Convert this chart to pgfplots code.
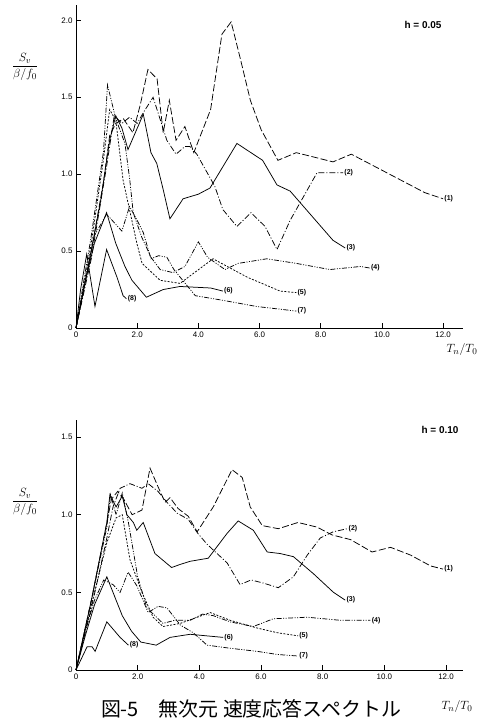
\documentclass[border=0pt]{standalone}
\usepackage{fontspec}
\setmainfont{Liberation Sans}
\newfontfamily\cjk{Noto Sans CJK JP}
\usepackage{pgfplots}
\pgfplotsset{compat=1.18}

\pgfplotsset{
  spec/.style={
    scale only axis, width=387bp, xmin=0,
    axis x line*=bottom, axis y line*=left,
    axis line style={line width=0.9pt},
    tick align=inside, major tick length=5bp,
    tick style={line width=0.8pt, black},
    xtick={0,2,4,6,8,10,12},
    xticklabels={0,2.0,4.0,6.0,8.0,10.0,12.0},
    tick label style={font=\fontsize{8}{9}\selectfont},
    /pgf/number format/assume math mode=true,
    clip=false,
    every axis plot/.append style={black, line width=0.75pt, no markers},
  },
  c1/.style={dash pattern=on 7pt off 2.5pt},
  c2/.style={dash pattern=on 6pt off 2pt on 1pt off 2pt},
  c3/.style={solid},
  c4/.style={dash pattern=on 5pt off 1.5pt on 1pt off 1.5pt on 1pt off 1.5pt},
  c5/.style={dash pattern=on 2pt off 1.5pt},
  c6/.style={solid},
  c7/.style={dash pattern=on 5pt off 1.5pt on 1pt off 1.5pt on 1pt off 1.5pt},
  c8/.style={solid},
}
\tikzset{lab/.style={pos=1, right, inner sep=1pt, font=\bfseries\fontsize{7}{8}\selectfont}}

\begin{document}
\begin{tikzpicture}
\path[use as bounding box] (0,0) rectangle (487bp,719bp);

% ---- h = 0.05 ----
\begin{axis}[spec, at={(76bp,391bp)}, anchor=south west,
  height=323bp, ymin=0, ymax=2.1, xmax=12.65,
  ytick={0,0.5,1,1.5,2}, yticklabels={0,0.5,1.0,1.5,2.0}]
\addplot[c1] coordinates {(0,0) (0.5,0.5) (0.9,0.95) (1.1,1.25) (1.3,1.33) (1.55,1.36) (1.86,1.27) (2.1,1.45) (2.35,1.68) (2.65,1.62) (2.85,1.27) (3.05,1.48) (3.27,1.22) (3.56,1.31) (3.85,1.14) (4.4,1.42) (4.77,1.91) (5.07,1.99) (5.36,1.76) (5.7,1.48) (6.05,1.29) (6.6,1.09) (7.2,1.14) (8.4,1.08) (9.0,1.13) (11.4,0.88) (12.0,0.84)} node[lab] {(1)};
\addplot[c2] coordinates {(0,0) (0.5,0.45) (1.0,1.05) (1.25,1.38) (1.5,1.33) (1.75,1.37) (2.0,1.33) (2.2,1.40) (2.52,1.50) (2.97,1.22) (3.27,1.13) (3.56,1.18) (3.72,1.18) (3.95,1.13) (4.54,0.92) (4.8,0.77) (5.26,0.66) (5.72,0.75) (6.18,0.66) (6.57,0.51) (7.0,0.70) (7.88,1.01) (8.73,1.01)} node[lab] {(2)};
\addplot[c3] coordinates {(0,0) (0.4,0.4) (0.8,0.82) (1.1,1.22) (1.3,1.38) (1.5,1.3) (1.7,1.16) (2.2,1.39) (2.45,1.14) (2.64,1.07) (2.85,0.9) (3.07,0.71) (3.5,0.84) (4.0,0.87) (4.38,0.91) (5.26,1.20) (6.1,1.09) (6.57,0.93) (7.0,0.89) (8.4,0.57) (8.8,0.52)} node[lab] {(3)};
\addplot[c4] coordinates {(0,0) (0.5,0.6) (0.9,1.15) (1.03,1.58) (1.3,1.36) (1.6,1.2) (1.76,0.96) (1.87,0.75) (2.15,0.59) (2.45,0.46) (2.75,0.38) (3.17,0.36) (3.56,0.40) (4.0,0.56) (4.3,0.46) (4.87,0.38) (5.3,0.42) (6.24,0.45) (7.2,0.42) (8.3,0.38) (9.3,0.40) (9.6,0.39)} node[lab] {(4)};
\addplot[c5] coordinates {(0,0) (0.5,0.55) (0.9,1.1) (1.1,1.42) (1.3,1.35) (1.54,0.96) (1.99,0.55) (2.16,0.42) (2.75,0.31) (3.4,0.29) (4.48,0.45) (5.6,0.33) (6.67,0.24) (7.2,0.23)} node[lab] {(5)};
\addplot[c6] coordinates {(0,0) (0.3,0.3) (0.6,0.55) (1.0,0.75) (1.3,0.55) (1.6,0.4) (1.83,0.31) (2.3,0.2) (2.85,0.25) (3.4,0.27) (4.4,0.26) (4.8,0.24)} node[lab] {(6)};
\addplot[c7] coordinates {(0,0) (0.3,0.3) (0.6,0.6) (1.0,0.74) (1.5,0.63) (1.75,0.79) (2.0,0.70) (2.2,0.62) (2.45,0.45) (2.7,0.47) (2.97,0.46) (3.2,0.38) (3.9,0.21) (4.8,0.18) (5.9,0.14) (7.2,0.11)} node[lab] {(7)};
\addplot[c8] coordinates {(0,0) (0.15,0.25) (0.35,0.48) (0.62,0.14) (1.0,0.51) (1.34,0.33) (1.54,0.21) (1.65,0.19)} node[lab] {(8)};
\end{axis}

% ---- h = 0.10 ----
\begin{axis}[spec, at={(76bp,49bp)}, anchor=south west,
  height=250bp, ymin=0, ymax=1.61, xmax=12.55,
  ytick={0,0.5,1,1.5}, yticklabels={0,0.5,1.0,1.5}]
\addplot[c1] coordinates {(0,0) (0.5,0.45) (1.0,0.95) (1.15,1.1) (1.35,1.15) (1.55,1.1) (1.82,1.0) (2.14,1.03) (2.4,1.30) (2.66,1.18) (2.89,1.08) (3.05,1.11) (3.31,1.04) (3.64,0.99) (3.93,0.89) (4.45,1.05) (5.06,1.29) (5.39,1.24) (5.65,1.05) (6.04,0.93) (6.56,0.91) (7.2,0.95) (7.82,0.92) (8.3,0.87) (8.9,0.84) (9.6,0.76) (10.2,0.79) (10.85,0.74) (11.5,0.67) (11.9,0.65)} node[lab] {(1)};
\addplot[c2] coordinates {(0,0) (0.5,0.4) (1.0,0.85) (1.2,1.05) (1.43,1.17) (1.75,1.2) (2.14,1.17) (2.34,1.2) (2.66,1.15) (2.95,1.08) (3.28,1.01) (3.64,0.97) (3.95,0.88) (4.25,0.81) (4.9,0.69) (5.32,0.55) (5.68,0.58) (6.07,0.56) (6.56,0.53) (7.05,0.6) (7.5,0.74) (7.92,0.85) (8.34,0.89) (8.8,0.91)} node[lab] {(2)};
\addplot[c3] coordinates {(0,0) (0.5,0.45) (1.0,0.95) (1.1,1.13) (1.3,1.05) (1.5,1.12) (1.65,1.0) (1.86,0.95) (1.97,0.9) (2.18,0.95) (2.56,0.75) (3.1,0.66) (3.38,0.68) (3.7,0.7) (4.29,0.72) (4.9,0.88) (5.26,0.96) (5.75,0.9) (6.2,0.76) (6.62,0.75) (7.05,0.73) (7.7,0.62) (8.35,0.5) (8.73,0.45)} node[lab] {(3)};
\addplot[c4] coordinates {(0,0) (0.5,0.45) (1.0,0.92) (1.12,1.13) (1.3,1.0) (1.5,1.14) (1.7,0.95) (2.0,0.6) (2.3,0.4) (2.82,0.30) (3.2,0.32) (3.7,0.32) (4.1,0.36) (4.45,0.35) (5.0,0.31) (5.75,0.28) (6.4,0.33) (7.5,0.34) (8.57,0.32) (9.55,0.32)} node[lab] {(4)};
\addplot[c5] coordinates {(0,0) (0.5,0.42) (1.0,0.82) (1.3,0.98) (1.5,1.0) (1.75,0.71) (2.14,0.5) (2.5,0.34) (2.82,0.28) (3.38,0.30) (4.35,0.37) (5.0,0.32) (5.88,0.27) (6.53,0.24) (7.2,0.22)} node[lab] {(5)};
\addplot[c6] coordinates {(0,0) (0.3,0.22) (0.6,0.42) (1.0,0.6) (1.2,0.5) (1.5,0.35) (1.8,0.25) (2.1,0.18) (2.6,0.16) (3.05,0.21) (3.7,0.23) (4.77,0.21)} node[lab] {(6)};
\addplot[c7] coordinates {(0,0) (0.3,0.25) (0.6,0.45) (0.9,0.58) (1.2,0.55) (1.43,0.5) (1.69,0.63) (1.98,0.54) (2.34,0.37) (2.66,0.41) (2.95,0.40) (3.38,0.29) (3.8,0.24) (4.25,0.16) (5.0,0.14) (5.88,0.12) (6.53,0.10) (7.2,0.09)} node[lab] {(7)};
\addplot[c8] coordinates {(0,0) (0.36,0.15) (0.52,0.15) (0.62,0.12) (1.0,0.31) (1.43,0.21) (1.7,0.16)} node[lab] {(8)};
\end{axis}

% labels
\node[font=\fontsize{13}{14}\selectfont] at (25bp,652bp) {$\displaystyle\frac{S_v}{\beta/f_0}$};
\node[font=\fontsize{13}{14}\selectfont] at (25bp,217bp) {$\displaystyle\frac{S_v}{\beta/f_0}$};
\node[font=\bfseries\fontsize{10}{11}\selectfont] at (423bp,694bp) {h = 0.05};
\node[font=\bfseries\fontsize{10}{11}\selectfont] at (440bp,289bp) {h = 0.10};
\node[font=\fontsize{13}{14}\selectfont] at (462bp,369bp) {$T_n/T_0$};
\node[font=\fontsize{13}{14}\selectfont] at (457bp,12bp) {$T_n/T_0$};
\node[font=\cjk\fontsize{20}{21}\selectfont] at (251bp,10bp) {図-5\quad 無次元 速度応答スペクトル};
\end{tikzpicture}
\end{document}
